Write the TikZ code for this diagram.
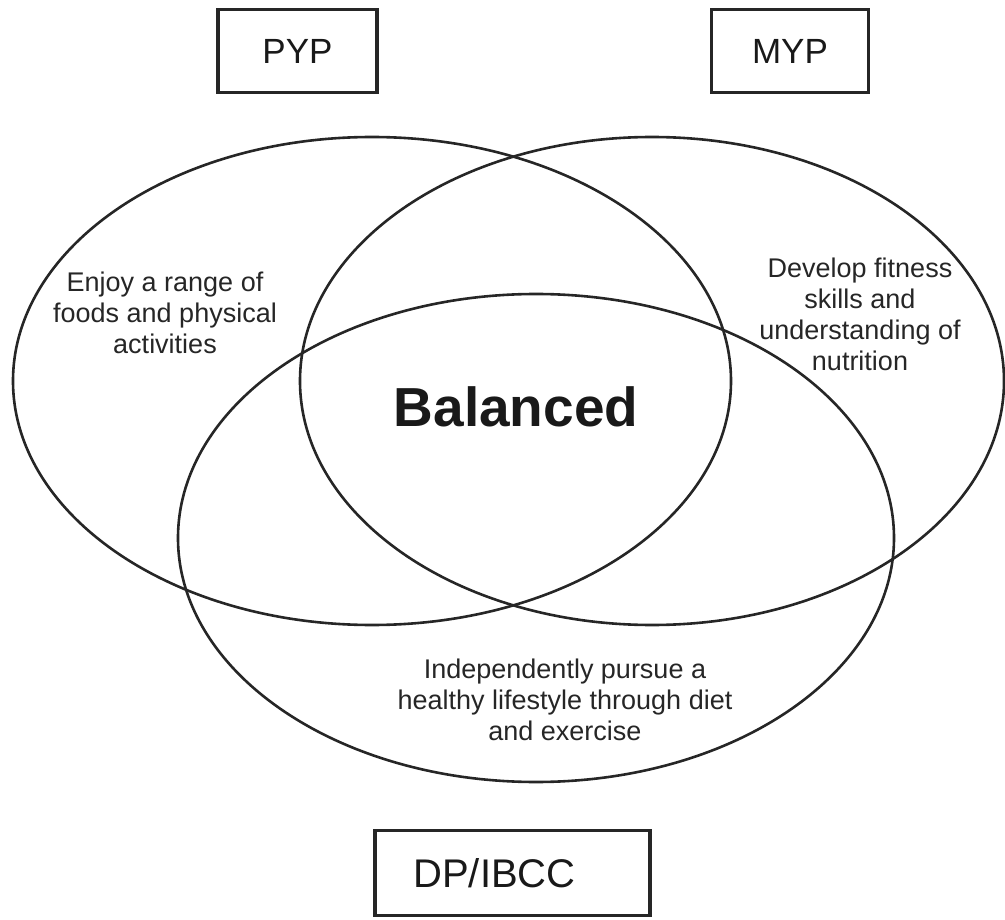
\documentclass[tikz,border=0pt]{standalone}
\usepackage{fontspec}
\setmainfont{Liberation Sans}
\usepackage{tikz}

\begin{document}
\begin{tikzpicture}[x=1pt,y=-1pt,semithick,
                      labelfont/.style={font=\fontsize{27}{31}\selectfont,align=center,text=black!85}]
    \tikzstyle{venn}=[draw=black!85,line width=2.6pt]
    \tikzstyle{stage}=[draw=black!85,line width=3.2pt,font=\fontsize{35}{40}\selectfont,
                       text=black!90,minimum height=83pt,inner sep=0pt]
    \useasboundingbox (0,0) rectangle (1005,920);

    % the three circles
    \draw[venn] (372,381) ellipse [x radius=359pt, y radius=244pt];
    \draw[venn] (652,381) ellipse [x radius=352pt, y radius=244pt];
    \draw[venn] (536,538) ellipse [x radius=358pt, y radius=244pt];

    \node[stage,minimum width=159pt] (pyp) at (297.5,51) {PYP};
    \node[stage,minimum width=157pt] (myp) at (790,51) {MYP};
    \node[stage,minimum width=275pt,minimum height=85pt,font=\fontsize{40}{46}\selectfont]
        (dp) at (512.5,873) {DP/IBCC\hspace*{36pt}};

    \node[labelfont] (pyptext) at (165,313) {Enjoy a range of\\foods and physical\\activities};
    \node[labelfont] (myptext) at (860,314) {Develop fitness\\skills and\\understanding of\\nutrition};
    \node[labelfont] (dptext) at (565,700) {Independently pursue a\\healthy lifestyle through diet\\and exercise};
    \node[font=\fontsize{55}{60}\selectfont\bfseries,text=black!90] (balanced) at (516,407) {Balanced};

\end{tikzpicture}
\end{document}
